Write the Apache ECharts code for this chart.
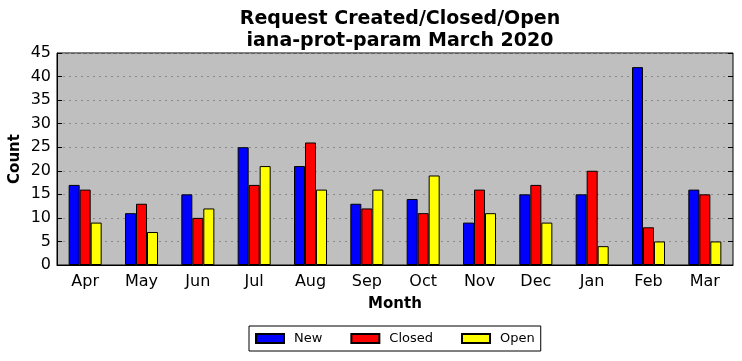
<!DOCTYPE html>
<html><head><meta charset="utf-8">
<script src="https://cdn.jsdelivr.net/npm/echarts@6/dist/echarts.min.js"></script>
<style>html,body{margin:0;padding:0;background:#fff}#c{width:742px;height:361px}</style>
</head><body><div id="c"></div>
<script>
var months = ['Apr','May','Jun','Jul','Aug','Sep','Oct','Nov','Dec','Jan','Feb','Mar'];
var newVals = [17,11,15,25,21,13,14,9,15,15,42,16];
var closedVals = [16,13,10,17,26,12,11,16,17,20,8,15];
var openVals = [9,7,12,21,16,16,19,11,9,4,5,5];
var yTicks = [0,5,10,15,20,25,30,35,40,45];

var font = 'DejaVu Sans';
var chart = echarts.init(document.getElementById('c'));
function bar(name, data, color){
  return {name:name, type:'bar', data:data, barWidth:11, barGap:'0%',
    itemStyle:{color:color, borderColor:'#000', borderWidth:1}};
}
chart.setOption({
  animation:false,
  textStyle:{fontFamily:font},
  title:{text:'Request Created/Closed/Open\niana-prot-param March 2020', left:395, textAlign:'center', top:3,
    textStyle:{fontFamily:font, fontSize:19, fontWeight:'bold', color:'#000', lineHeight:22}},
  grid:{left:57, right:9, top:53, bottom:96, outerBoundsMode:'none', containLabel:false, show:true, backgroundColor:'#bfbfbf', borderColor:'#000', borderWidth:1},
  legend:{bottom:10, left:249, icon:'rect', itemWidth:28, itemHeight:9, itemGap:28, padding:[6,6,6,6],
    borderColor:'#000', borderWidth:1, borderRadius:0,
    textStyle:{fontFamily:font, fontSize:13, color:'#000', padding:[0,0,0,5]},
    data:['New','Closed','Open']},
  xAxis:[{type:'category', data:months, name:'Month', nameLocation:'middle', nameGap:32, nameMoveOverlap:false,
    nameTextStyle:{fontFamily:font, fontSize:15, fontWeight:'bold', color:'#000'},
    axisLine:{lineStyle:{color:'#000'}}, axisTick:{inside:true, alignWithLabel:true, length:5, lineStyle:{color:'#000'}},
    axisLabel:{fontFamily:font, fontSize:16, color:'#000', margin:9}},
   {type:'category', data:months, position:'top', axisLine:{show:false}, axisLabel:{show:false},
    axisTick:{inside:true, alignWithLabel:true, length:5, lineStyle:{color:'#000'}}}],
  yAxis:[{type:'value', min:0, max:45, interval:5, name:'Count', nameLocation:'middle', nameGap:34, nameMoveOverlap:false,
    nameTextStyle:{fontFamily:font, fontSize:15, fontWeight:'bold', color:'#000'},
    axisLine:{show:true, lineStyle:{color:'#000'}}, axisTick:{show:true, inside:true, length:5, lineStyle:{color:'#000'}},
    axisLabel:{fontFamily:font, fontSize:16, color:'#000', margin:6},
    splitLine:{show:true, lineStyle:{color:'#8a8a8a', type:[2,4]}}},
   {type:'value', min:0, max:45, interval:5, position:'right', axisLine:{show:false}, axisLabel:{show:false},
    axisTick:{show:true, inside:true, length:5, lineStyle:{color:'#000'}}, splitLine:{show:false}}],
  series:[bar('New', newVals, '#0000ff'), bar('Closed', closedVals, '#ff0000'), bar('Open', openVals, '#ffff00')]
});
</script></body></html>
